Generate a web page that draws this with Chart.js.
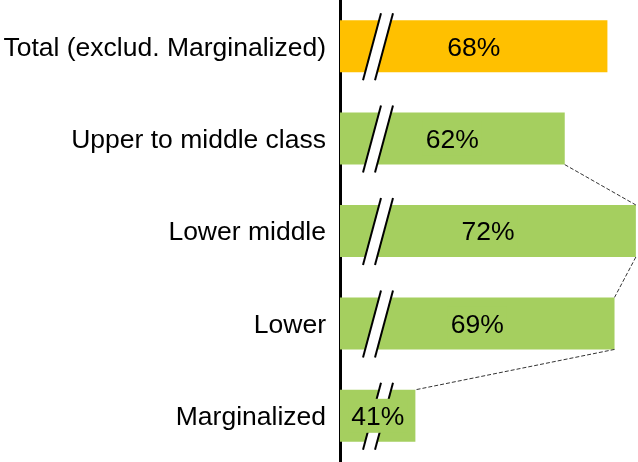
<!DOCTYPE html>
<html>
<head>
<meta charset="utf-8">
<script src="https://cdn.jsdelivr.net/npm/chart.js@4.4.0/dist/chart.umd.min.js"></script>
<style>
    html, body { margin: 0; padding: 0; background: #fff; }
    #wrap { width: 638px; height: 462px; position: relative; }
</style>
</head>
<body>
<div id="wrap"><canvas id="classChart"></canvas></div>
<script>
// Share by social class
const categories = ['Total (exclud. Marginalized)', 'Upper to middle class', 'Lower middle', 'Lower', 'Marginalized'];
const shares = [68, 62, 72, 69, 41];
const barColors = ['#FFC000', '#A5CF5F', '#A5CF5F', '#A5CF5F', '#A5CF5F'];
// bars joined by a dashed line (bottom-right corner -> top-right corner of the next one)
const linkedBars = [[1, 2], [2, 3], [3, 4]];
// value axis is cut, so it does not start at zero
const axisMin = 30.4;
const axisMax = 72.3;

const fontFamily = "'Liberation Sans', Arial, sans-serif";
const fontSize = 26.5;

// Draws the axis-break marks, value labels and the dashed connectors
const breakAndLabels = {
    id: 'breakAndLabels',
    afterDatasetsDraw(chart) {
        const ctx = chart.ctx;
        const bars = chart.getDatasetMeta(0).data;
        const cx = chart.chartArea.left + 38;
        const lean = 9;
        ctx.save();

        // axis break: two slanted strokes with a white gap
        bars.forEach(bar => {
            const top = bar.y - bar.height / 2 - 7;
            const bottom = bar.y + bar.height / 2 + 8;
            ctx.fillStyle = '#fff';
            ctx.beginPath();
            ctx.moveTo(cx - 6 - lean, bottom);
            ctx.lineTo(cx - 6 + lean, top);
            ctx.lineTo(cx + 6 + lean, top);
            ctx.lineTo(cx + 6 - lean, bottom);
            ctx.closePath();
            ctx.fill();
            ctx.strokeStyle = '#000';
            ctx.lineWidth = 2;
            [-6, 6].forEach(o => {
                ctx.beginPath();
                ctx.moveTo(cx + o - lean, bottom);
                ctx.lineTo(cx + o + lean, top);
                ctx.stroke();
            });
        });

        // value labels, centred in each bar
        ctx.font = fontSize + 'px ' + fontFamily;
        ctx.textAlign = 'center';
        ctx.textBaseline = 'middle';
        bars.forEach((bar, i) => {
            const text = shares[i] + '%';
            const x = (bar.x + bar.base) / 2;
            const w = ctx.measureText(text).width + 6;
            ctx.fillStyle = barColors[i];
            ctx.fillRect(x - w / 2, bar.y - 17, w, 34);
            ctx.fillStyle = '#000';
            ctx.fillText(text, x, bar.y + 2);
        });

        // dashed connectors between neighbouring bars
        ctx.strokeStyle = '#333';
        ctx.lineWidth = 1;
        ctx.setLineDash([4, 2]);
        linkedBars.forEach(([a, b]) => {
            const from = bars[a];
            const to = bars[b];
            ctx.beginPath();
            ctx.moveTo(from.x, from.y + from.height / 2);
            ctx.lineTo(to.x, to.y - to.height / 2);
            ctx.stroke();
        });
        ctx.restore();
    }
};

const ctx = document.getElementById('classChart').getContext('2d');
const classChart = new Chart(ctx, {
    type: 'bar',
    data: {
        labels: categories,
        datasets: [{
            data: shares,
            backgroundColor: barColors,
            base: axisMin,
            barPercentage: 0.563,
            categoryPercentage: 1
        }]
    },
    options: {
        indexAxis: 'y',
        responsive: true,
        maintainAspectRatio: false,
        animation: false,
        layout: { padding: 0 },
        plugins: {
            legend: { display: false },
            tooltip: { enabled: false }
        },
        scales: {
            x: {
                display: false,
                min: axisMin,
                max: axisMax
            },
            y: {
                grid: { display: false, drawTicks: false },
                border: { display: true, color: '#000', width: 3 },
                ticks: {
                    color: '#000',
                    padding: 14,
                    labelOffset: 2,
                    font: { family: fontFamily, size: fontSize }
                },
                afterFit(scale) {
                    // fixed axis width, and let the plot run to the top and bottom edges
                    scale.width = 340;
                    scale.paddingTop = 0;
                    scale.paddingBottom = 0;
                }
            }
        }
    },
    plugins: [breakAndLabels]
});
</script>
</body>
</html>
